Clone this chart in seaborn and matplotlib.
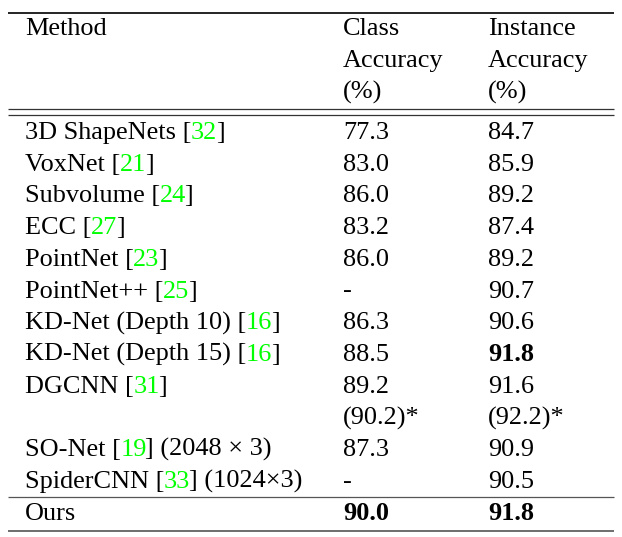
import matplotlib
matplotlib.use("Agg")
import matplotlib.pyplot as plt
import seaborn as sns

# table contents
header_lines = [["Method", "Class", "Instance"],
                ["", "Accuracy", "Accuracy"],
                ["", "(%)", "(%)"]]
methods = ["3D ShapeNets", "VoxNet", "Subvolume", "ECC", "PointNet", "PointNet++",
           "KD-Net (Depth 10)", "KD-Net (Depth 15)", "DGCNN", "SO-Net", "SpiderCNN", "Ours"]
refs = ["32", "21", "24", "27", "23", "25", "16", "16", "31", "19", "33", ""]
suffixes = ["", "", "", "", "", "", "", "", "", " (2048 \u00d7 3)", " (1024\u00d73)", ""]
class_acc = [77.3, 83.0, 86.0, 83.2, 86.0, None, 86.3, 88.5, 89.2, 87.3, None, 90.0]
instance_acc = [84.7, 85.9, 89.2, 87.4, 89.2, 90.7, 90.6, 91.8, 91.6, 90.9, 90.5, 91.8]
class_extra = {"DGCNN": "(90.2)*"}
instance_extra = {"DGCNN": "(92.2)*"}
bold_class = {"Ours"}
bold_instance = {"KD-Net (Depth 15)", "Ours"}

sns.set_theme(style="white")
plt.rcParams["font.family"] = ["Liberation Serif", "DejaVu Serif"]

W, H = 622, 537
fig = plt.figure(figsize=(W / 100, H / 100), dpi=100)
ax = fig.add_axes([0, 0, 1, 1])
ax.set_xlim(0, W)
ax.set_ylim(H, 0)
ax.axis("off")
renderer = fig.canvas.get_renderer()

fs = 18.9
green = "#00ff00"
col_x = [25, 343, 488]


def fmt(v):
    return "-" if v is None else f"{v:.1f}"


def put(x, y, s, color="black", **kw):
    return ax.text(x, y, s, fontsize=fs, va="baseline", ha="left", color=color, **kw)


def width(s):
    # pixel width of a string (1 data unit == 1 pixel here)
    t = ax.text(0, 0, s, fontsize=fs)
    w = t.get_window_extent(renderer).width
    t.remove()
    return w


# header
header_base = [35, 66.7, 98.4]
for yb, row in zip(header_base, header_lines):
    for x, s in zip(col_x, row):
        if s:
            put(x, yb, s)

# body
y0, pitch = 139, 31.7
line = 0
for i, m in enumerate(methods):
    yb = 520 if m == "Ours" else y0 + line * pitch
    if refs[i]:
        head = m + " ["
        put(col_x[0], yb, head)
        put(col_x[0] + width(head) - 0.5, yb, refs[i], color=green)
        put(col_x[0] + width(head + refs[i]) - 2.0, yb, "]" + suffixes[i])
    else:
        put(col_x[0], yb, m + suffixes[i])
    put(col_x[1], yb, fmt(class_acc[i]), weight="bold" if m in bold_class else "normal")
    put(col_x[2], yb, fmt(instance_acc[i]), weight="bold" if m in bold_instance else "normal")
    line += 1
    if m in class_extra:
        yb2 = y0 + line * pitch
        put(col_x[1], yb2, class_extra[m])
        put(col_x[2], yb2, instance_extra[m])
        line += 1

# rules (booktabs-like)
for yr, lw, c in [(12.5, 1.2, "black"), (109, 0.9, "#333333"), (114.5, 0.9, "#333333"),
                  (497, 0.9, "#555555"), (531, 1.2, "#555555")]:
    ax.plot([8, 614], [yr, yr], color=c, lw=lw, solid_capstyle="butt")

sns.despine(ax=ax, left=True, bottom=True)
fig.savefig("out.png", dpi=100)
